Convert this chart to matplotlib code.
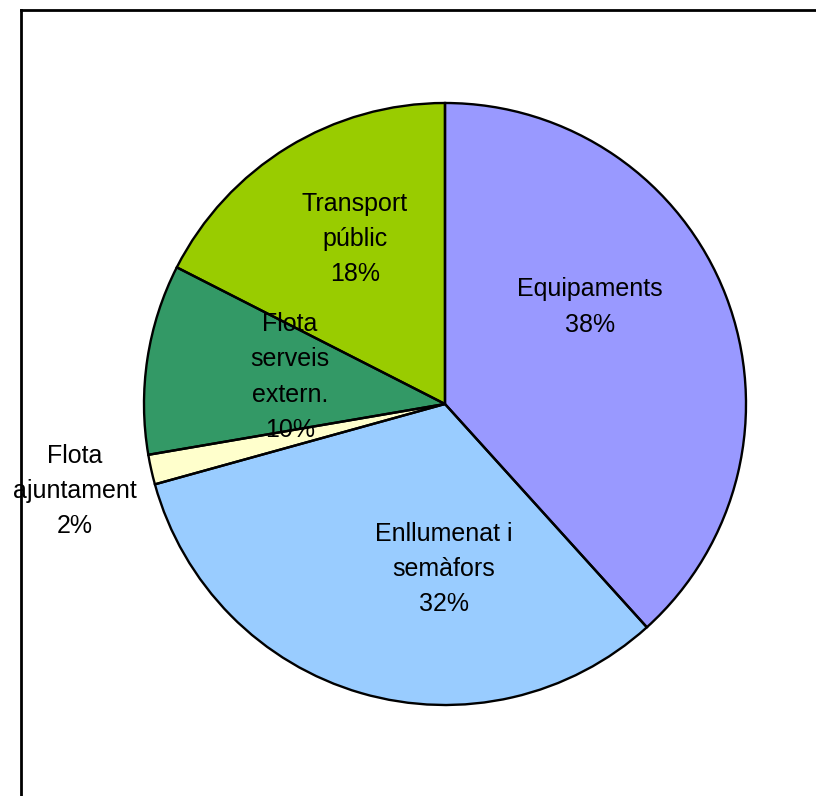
import matplotlib.pyplot as plt
from matplotlib.lines import Line2D

plt.rcParams['font.family'] = ['Liberation Sans', 'DejaVu Sans']

categories = ["Equipaments", "Enllumenat i\nsemàfors", "Flota\najuntament",
              "Flota\nserveis\nextern.", "Transport\npúblic"]
values = [38.3, 32.4, 1.6, 10.2, 17.5]
colors = ["#9999FF", "#99CCFF", "#FFFFCC", "#339966", "#99CC00"]

# label centres in pixels (Excel-style placement)
label_pos = [(590, 307), (444, 569), (75, 491), (290, 377), (355, 239)]

W, H = 816, 796
fig = plt.figure(figsize=(W / 100, H / 100), dpi=100)
ax = fig.add_axes([0, 0, 1, 1])

cx, cy, r = 445, H - 404, 301

# fills first, then text, then outlines on top (as in the original)
ax.pie(values, colors=colors, startangle=90, counterclock=False,
       center=(cx, cy), radius=r, frame=True,
       wedgeprops=dict(linewidth=0, zorder=1))

total = sum(values)
for name, v, (px, py) in zip(categories, values, label_pos):
    ax.text(px, H - py, f"{name}\n{v / total * 100:.0f}%", ha='center', va='center',
            fontsize=18, linespacing=1.6, zorder=2)

ax.pie(values, colors=['none'] * len(values), startangle=90, counterclock=False,
       center=(cx, cy), radius=r, frame=True,
       wedgeprops=dict(linewidth=1.7, edgecolor='black', zorder=3))
ax.set_xlim(0, W)
ax.set_ylim(0, H)
ax.set_aspect('equal')
ax.axis('off')

# chart-area border (cropped on right and bottom)
ax.add_line(Line2D([21, 21], [0, H - 10], color='black', linewidth=2, zorder=4))
ax.add_line(Line2D([21, W], [H - 10, H - 10], color='black', linewidth=2, zorder=4))

fig.savefig("out.png", dpi=100)
